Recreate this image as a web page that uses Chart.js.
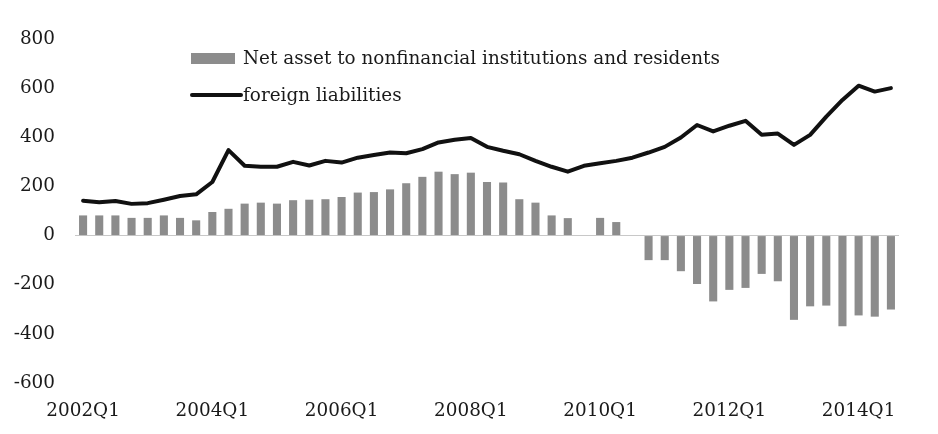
<!DOCTYPE html>
<html>
<head>
<meta charset="utf-8">
<script src="https://cdn.jsdelivr.net/npm/chart.js@4/dist/chart.umd.min.js"></script>
<style>
  html, body { margin: 0; padding: 0; background: #ffffff; }
  #wrap { width: 938px; height: 434px; }
</style>
</head>
<body>
<div id="wrap"><canvas id="c" width="938" height="434"></canvas></div>
<script>
const quarters = [
  "2002Q1","2002Q2","2002Q3","2002Q4","2003Q1","2003Q2","2003Q3","2003Q4",
  "2004Q1","2004Q2","2004Q3","2004Q4","2005Q1","2005Q2","2005Q3","2005Q4",
  "2006Q1","2006Q2","2006Q3","2006Q4","2007Q1","2007Q2","2007Q3","2007Q4",
  "2008Q1","2008Q2","2008Q3","2008Q4","2009Q1","2009Q2","2009Q3","2009Q4",
  "2010Q1","2010Q2","2010Q3","2010Q4","2011Q1","2011Q2","2011Q3","2011Q4",
  "2012Q1","2012Q2","2012Q3","2012Q4","2013Q1","2013Q2","2013Q3","2013Q4",
  "2014Q1","2014Q2","2014Q3"
];

const xTickLabels = ["2002Q1","2004Q1","2006Q1","2008Q1","2010Q1","2012Q1","2014Q1"];

const netAsset = [
  82, 82, 82, 72, 72, 82, 72, 62,
  96, 109, 130, 134, 130, 144, 146, 148,
  157, 175, 177, 188, 213, 239, 260, 250,
  256, 218, 216, 148, 134, 82, 71, 0,
  72, 55, 0, -100, -100, -145, -197, -268,
  -221, -213, -156, -186, -343, -288, -285, -369,
  -325, -330, -301
];

const foreignLiabilities = [
  142, 136, 141, 129, 132, 146, 161, 168,
  218, 348, 284, 280, 280, 300, 285, 304,
  297, 317, 328, 338, 335, 352, 379, 390,
  397, 361, 345, 331, 304, 280, 260, 284,
  294, 304, 317, 338, 361, 399, 450, 424,
  447, 467, 410, 415, 369, 410, 484, 552,
  610, 586, 600
];

const yTicks = [-600, -400, -200, 0, 200, 400, 600, 800];

const seriesNames = ["Net asset to nonfinancial institutions and residents", "foreign liabilities"];

const FONT = "DejaVu Serif";
const FONT_SIZE = 18.4;
const TEXT_COLOR = "#1a1a1a";
const BAR_COLOR = "#8c8c8c";
const LINE_COLOR = "#111111";

const legendPlugin = {
  id: "customLegend",
  afterDraw(chart) {
    const ctx = chart.ctx;
    const a = chart.chartArea;
    const x0 = a.left + 116;
    ctx.save();
    ctx.fillStyle = BAR_COLOR;
    ctx.fillRect(x0, a.top + 14, 44, 11);
    ctx.font = FONT_SIZE + "px '" + FONT + "'";
    ctx.fillStyle = TEXT_COLOR;
    ctx.textBaseline = "middle";
    ctx.textAlign = "left";
    ctx.fillText(chart.data.datasets[0].label, x0 + 52, a.top + 20);
    ctx.strokeStyle = LINE_COLOR;
    ctx.lineWidth = 4;
    ctx.lineCap = "round";
    ctx.beginPath();
    ctx.moveTo(x0 + 1, a.top + 56);
    ctx.lineTo(x0 + 50, a.top + 56);
    ctx.stroke();
    ctx.fillText(chart.data.datasets[1].label, x0 + 52, a.top + 57);
    ctx.restore();
  }
};

new Chart(document.getElementById("c"), {
  data: {
    labels: quarters,
    datasets: [
      {
        type: "bar",
        label: seriesNames[0],
        data: netAsset,
        backgroundColor: BAR_COLOR,
        borderWidth: 0,
        barPercentage: 0.5,
        categoryPercentage: 1.0,
        order: 2
      },
      {
        type: "line",
        label: seriesNames[1],
        data: foreignLiabilities,
        borderColor: LINE_COLOR,
        backgroundColor: LINE_COLOR,
        borderWidth: 4,
        pointRadius: 0,
        tension: 0,
        borderJoinStyle: "round",
        borderCapStyle: "round",
        order: 1
      }
    ]
  },
  options: {
    responsive: false,
    animation: false,
    layout: { padding: { left: 0, right: 39, top: 39, bottom: 0 } },
    plugins: {
      legend: { display: false },
      tooltip: { enabled: false }
    },
    scales: {
      x: {
        type: "category",
        offset: true,
        grid: { display: false, drawTicks: false },
        border: { display: false },
        ticks: {
          autoSkip: false,
          maxRotation: 0,
          minRotation: 0,
          padding: 17,
          color: TEXT_COLOR,
          font: { family: FONT, size: FONT_SIZE },
          callback: function(value) {
            const lab = this.getLabelForValue(value);
            return xTickLabels.includes(lab) ? lab : "";
          }
        },
        afterFit(scale) { scale.height = 51; }
      },
      y: {
        min: yTicks[0],
        max: yTicks[yTicks.length - 1],
        afterBuildTicks(scale) { scale.ticks = yTicks.map(v => ({ value: v })); },
        grid: {
          drawTicks: false,
          color: (c) => (c.tick && c.tick.value === 0 ? "#c8c8c8" : "rgba(0,0,0,0)"),
          lineWidth: 1
        },
        border: { display: false },
        ticks: {
          padding: 20,
          color: TEXT_COLOR,
          font: { family: FONT, size: FONT_SIZE }
        },
        afterFit(scale) { scale.width = 75; }
      }
    }
  },
  plugins: [legendPlugin]
});
</script>
</body>
</html>
